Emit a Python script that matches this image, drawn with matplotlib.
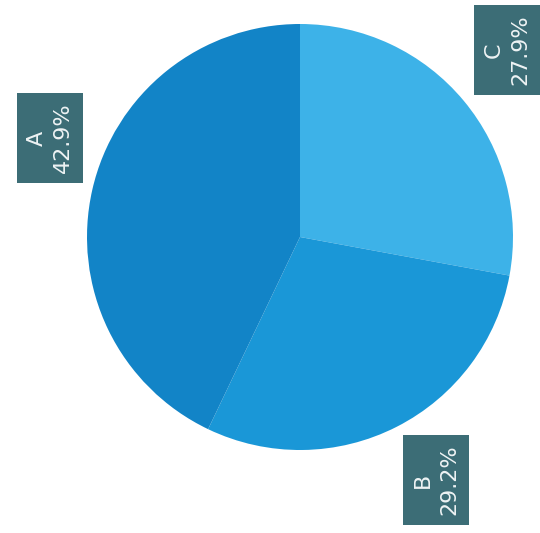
import numpy as np
import matplotlib
matplotlib.use("Agg")
import matplotlib.pyplot as plt

# Slice data, drawn clockwise from 12 o'clock
categories = ["C", "B", "A"]
values = [27.9, 29.2, 42.9]
colors = ["#3db2e8", "#1a97d7", "#1284c7"]

# Label box centres in figure pixels (x from left, y from top)
label_pos = {"C": (507, 50), "B": (436, 480), "A": (50, 138)}

W, H = 540, 533
fig = plt.figure(figsize=(W / 100, H / 100), dpi=100)
ax = fig.add_axes([0, 0, 1, 1])

cx, cy, r = 300, H - 237, 213
ax.pie(values, colors=colors, startangle=90, counterclock=False,
       center=(cx, cy), radius=r, frame=True,
       wedgeprops=dict(linewidth=0, antialiased=True))
ax.set_xlim(0, W)
ax.set_ylim(0, H)
ax.set_aspect("equal")
ax.axis("off")

total = sum(values)
for cat, v in zip(categories, values):
    px, py = label_pos[cat]
    ax.text(px, H - py, f"{cat}\n{v / total * 100:.1f}%", rotation=90,
            ha="center", va="center", ma="center", color="#eef3f4",
            fontsize=16, linespacing=1.4, family="DejaVu Sans",
            bbox=dict(boxstyle="square,pad=0.42", fc="#3c6d76", ec="none"))

fig.savefig("out.png", dpi=100)
